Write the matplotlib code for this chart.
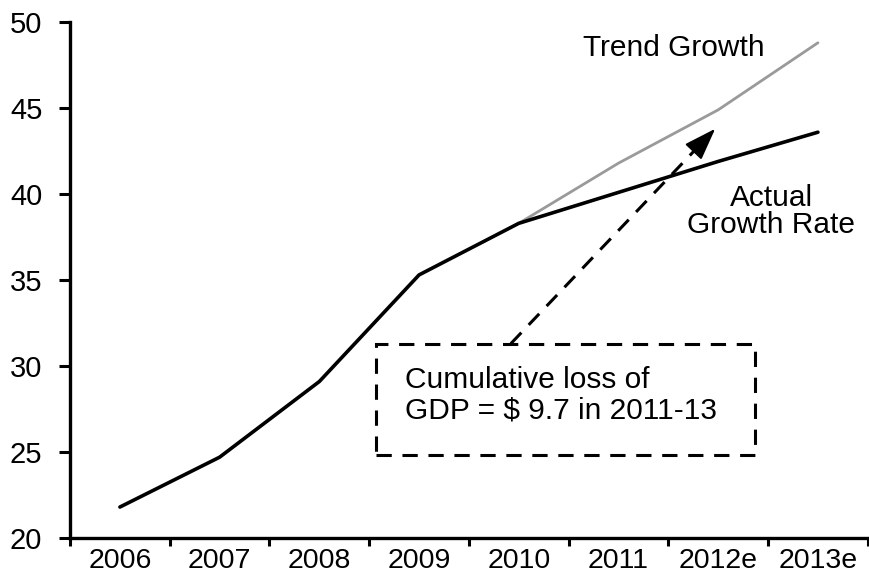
import matplotlib.pyplot as plt
from matplotlib.patches import Rectangle

plt.rcParams['font.family'] = ['Liberation Sans', 'DejaVu Sans']

# Data
years = ['2006', '2007', '2008', '2009', '2010', '2011', '2012e', '2013e']
actual = [21.8, 24.7, 29.1, 35.3, 38.3, 40.1, 41.9, 43.6]
trend_years = ['2010', '2011', '2012e', '2013e']
trend = [38.3, 41.8, 44.9, 48.8]

fig = plt.figure(figsize=(8.69, 5.77), dpi=100)
ax = fig.add_axes([0.0806, 0.0676, 0.918, 0.894])

x_actual = [years.index(y) for y in years]
x_trend = [years.index(y) for y in trend_years]

ax.plot(x_trend, trend, color='#9a9a9a', linewidth=2.0, solid_capstyle='round')
ax.plot(x_actual, actual, color='black', linewidth=2.6, solid_capstyle='round')

# Axes styling
ax.set_xlim(-0.5, len(years) - 0.5)
ax.set_ylim(20, 50)
ax.set_yticks(range(20, 51, 5))
ax.set_xticks([i - 0.5 for i in range(len(years) + 1)])
ax.set_xticklabels([])
ax.set_xticks(range(len(years)), minor=True)
ax.set_xticklabels(years, minor=True)
ax.tick_params(axis='x', which='minor', length=0, pad=7, labelsize=20.5)
ax.tick_params(axis='x', which='major', length=6, width=2.2, direction='out')
ax.tick_params(axis='y', length=8, width=2.2, direction='out', pad=12, labelsize=21)
for side in ['top', 'right']:
    ax.spines[side].set_visible(False)
for side in ['left', 'bottom']:
    ax.spines[side].set_linewidth(2.4)

# Labels
ax.text(5.55, 48.5, 'Trend Growth', fontsize=21.5, ha='center', va='center')
ax.text(6.53, 39.0, 'Actual\nGrowth Rate', fontsize=21.5, ha='center', va='center',
        linespacing=0.95)

# Dashed callout box
box = Rectangle((2.57, 24.8), 3.8, 6.5, fill=False, edgecolor='black',
                linewidth=2.2, linestyle=(0, (5, 3.5)))
ax.add_patch(box)
ax.text(2.86, 28.3, 'Cumulative loss of\nGDP = $ 9.7 in 2011-13', fontsize=21.5,
        ha='left', va='center', linespacing=1.1)

# Dashed arrow: dashed shaft plus solid head
tail = (3.92, 31.3)
tip = (5.97, 43.8)
neck = (tail[0] + 0.9 * (tip[0] - tail[0]), tail[1] + 0.9 * (tip[1] - tail[1]))
ax.plot([tail[0], neck[0]], [tail[1], neck[1]], color='black', linewidth=2.2,
        linestyle=(0, (5, 3.5)))
ax.annotate('', xy=tip, xytext=neck,
            arrowprops=dict(arrowstyle='-|>,head_length=1.0,head_width=0.35', lw=1.5,
                            color='black', mutation_scale=20, shrinkA=0, shrinkB=0))

fig.savefig('out.png', dpi=100)
